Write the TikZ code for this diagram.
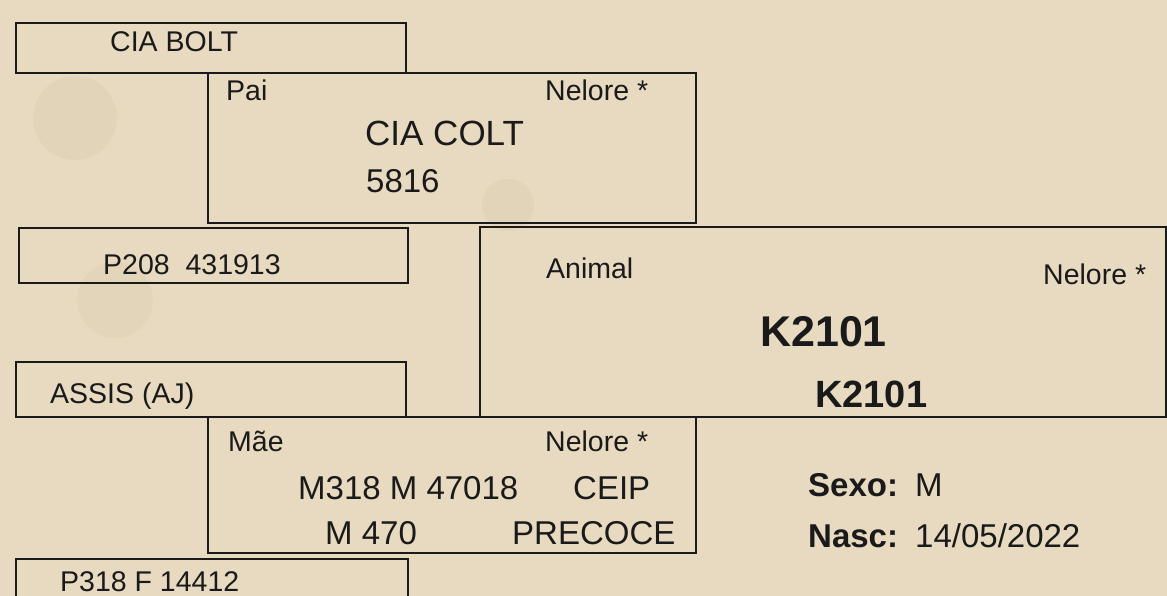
\documentclass[tikz,border=0pt]{standalone}
\usepackage{fontspec}
\setmainfont{Liberation Sans}
\usetikzlibrary{positioning}
\definecolor{paper}{HTML}{E7DAC0}
\definecolor{stain}{HTML}{C4AD86}
\definecolor{ink}{HTML}{1A1A1A}

\begin{document}
\begin{tikzpicture}[x=1pt, y=-1pt,
        frame/.style={draw=ink, line width=2.4pt, inner sep=0pt, anchor=north west},
        lbl/.style={anchor=base west, inner sep=0pt, text=ink, font=\fontsize{28.5}{30}\selectfont},
        mid/.style={lbl, font=\fontsize{33}{36}\selectfont},
        bold/.style={lbl, font=\bfseries\fontsize{33}{36}\selectfont}
    ]
        % paper
        \path[clip] (0,0) rectangle (1167,596);
        \fill[paper] (0,0) rectangle (1167,596);
        \fill[stain, opacity=0.12] (75,118) circle (42);
        \fill[stain, opacity=0.10] (115,300) circle (38);
        \fill[stain, opacity=0.12] (508,205) circle (26);

        % boxes
        \node (bolt) [frame, minimum width=390pt, minimum height=50pt] at (15,22) {};
        \node (pai) [frame, minimum width=488pt, minimum height=150pt] at (207,72) {};
        \node (avop) [frame, minimum width=389pt, minimum height=55pt] at (18,227) {};
        \node (animal) [frame, minimum width=686pt, minimum height=190pt] at (479,226) {};
        \node (assis) [frame, minimum width=390pt, minimum height=55pt] at (15,361) {};
        \node (mae) [frame, minimum width=488pt, minimum height=136pt] at (207,416) {};
        \node (avom) [frame, minimum width=392pt, minimum height=60pt] at (15,558) {};

        % texts
        \node (boltname) [lbl] at (110,52) {CIA BOLT};
        \node (paitag) [lbl] at (226,101) {Pai};
        \node (paibreed) [lbl] at (545,101) {Nelore *};
        \node (painame) [mid, font=\fontsize{35}{38}\selectfont] at (365,146) {CIA COLT};
        \node (paireg) [mid] at (366,193) {5816};
        \node (avopname) [lbl] at (103,274) {P208\ \ 431913};
        \node (animaltag) [lbl] at (546,278) {Animal};
        \node (animalbreed) [lbl] at (1043,284) {Nelore *};
        \node (animalname) [bold, font=\bfseries\fontsize{43}{46}\selectfont] at (760,346) {K2101};
        \node (animalreg) [bold, font=\bfseries\fontsize{38}{41}\selectfont] at (815,407) {K2101};
        \node (assisname) [lbl] at (50,403) {ASSIS (AJ)};
        \node (maetag) [lbl] at (228,451) {Mãe};
        \node (maebreed) [lbl] at (545,451) {Nelore *};
        \node (maename) [mid] at (298,499) {M318 M 47018};
        \node (maeclass) [mid] at (573,499) {CEIP};
        \node (maereg) [mid] at (325,544) {M 470};
        \node (maeflag) [mid] at (512,544) {PRECOCE};
        \node (sexo) [bold] at (808,496) {Sexo:};
        \node (sexoval) [mid] at (915,496) {M};
        \node (nasc) [bold] at (808,547) {Nasc:};
        \node (nascval) [mid] at (915,547) {14/05/2022};
        \node (avomname) [lbl] at (60,591) {P318 F 14412};
    \end{tikzpicture}
\end{document}
